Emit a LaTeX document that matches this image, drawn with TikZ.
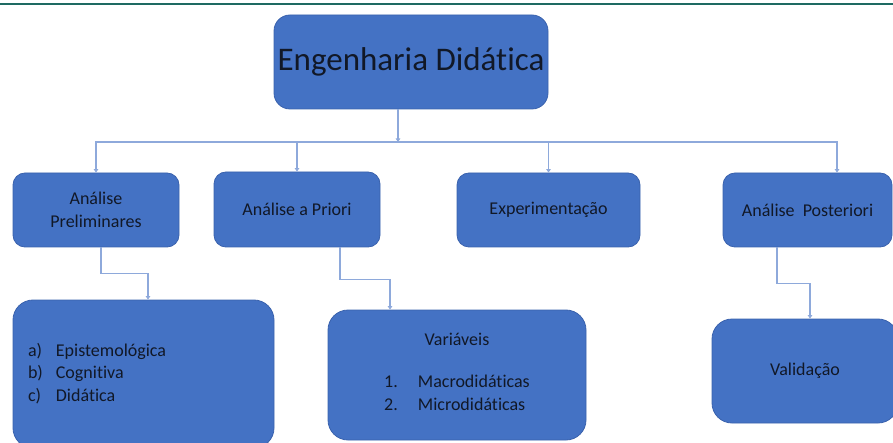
\documentclass[tikz,border=0pt]{standalone}
\usepackage{fontspec}
\setmainfont{Carlito}[Ligatures=NoCommon]
\usetikzlibrary{arrows.meta}
\definecolor{boxfill}{HTML}{4472C4}
\definecolor{boxline}{HTML}{3A62AD}
\definecolor{connc}{HTML}{8EA9DB}
\definecolor{rulec}{HTML}{1E6A62}
\definecolor{textc}{HTML}{111827}
\begin{document}
\begin{tikzpicture}[x=1pt,y=-1pt,
  box/.style={draw=boxline, fill=boxfill, rounded corners=12pt, line width=0.8pt,
    inner sep=0pt, align=center, text=textc, font=\fontsize{18}{22.5}\selectfont},
  link/.style={draw=connc, line width=1.2pt, -{Triangle[width=4.5pt,length=3.5pt]}}]
\useasboundingbox (0,0) rectangle (893,443);
\clip (0,0) rectangle (893,443);
\draw[rulec, line width=1.5pt] (0,4) -- (893,4);

\node[box, rounded corners=16pt, minimum width=274pt, minimum height=94pt,
  font=\fontsize{33}{36}\selectfont] (top) at (411,62) {Engenharia Didática};

\node[box, minimum width=166pt, minimum height=74pt] (b1) at (96,210) {Análise\\Preliminares};
\node[box, minimum width=166pt, minimum height=75pt] (b2) at (297,209.5) {Análise a Priori};
\node[box, minimum width=183pt, minimum height=74pt] (b3) at (548.5,210) {Experimentação};
\node[box, minimum width=169pt, minimum height=74pt] (b4) at (807.5,210) {Análise\ \ Posteriori};

\node[box, rounded corners=20pt, minimum width=261pt, minimum height=148pt, text width=231pt, align=left] (b5) at (143.5,374)
  {\begin{tabular}{@{}l@{\hspace{13pt}}l@{}}a) & Epistemológica\\ b) & Cognitiva\\ c) & Didática\end{tabular}};
\node[box, rounded corners=20pt, minimum width=258pt, minimum height=130pt] (b6) at (457,375)
  {Variáveis\\[25.5pt]\begin{tabular}{@{}r@{\hspace{20pt}}l@{}}1. & Macrodidáticas\\ 2. & Microdidáticas\end{tabular}};
\node[box, rounded corners=20pt, minimum width=186pt, minimum height=104pt] (b7) at (805,371) {Validação};

\coordinate (bus) at (398,142);
\draw[link] (top.south -| bus) -- (bus);
\draw[link] (bus) -| (b1.north);
\draw[link] (bus) -| (b2.north);
\draw[link] (bus) -| (b3.north);
\draw[link] (bus) -| ([xshift=29.5pt]b4.north);

\draw[link] ([xshift=5pt]b1.south) -- ++(0,26) -| ([xshift=4.5pt]b5.north);
\draw[link] ([xshift=43pt]b2.south) -- ++(0,32) -| ([xshift=-67pt]b6.north);
\draw[link] ([xshift=-30.5pt]b4.south) -- ++(0,36) -| ([xshift=5pt]b7.north);
\end{tikzpicture}
\end{document}
